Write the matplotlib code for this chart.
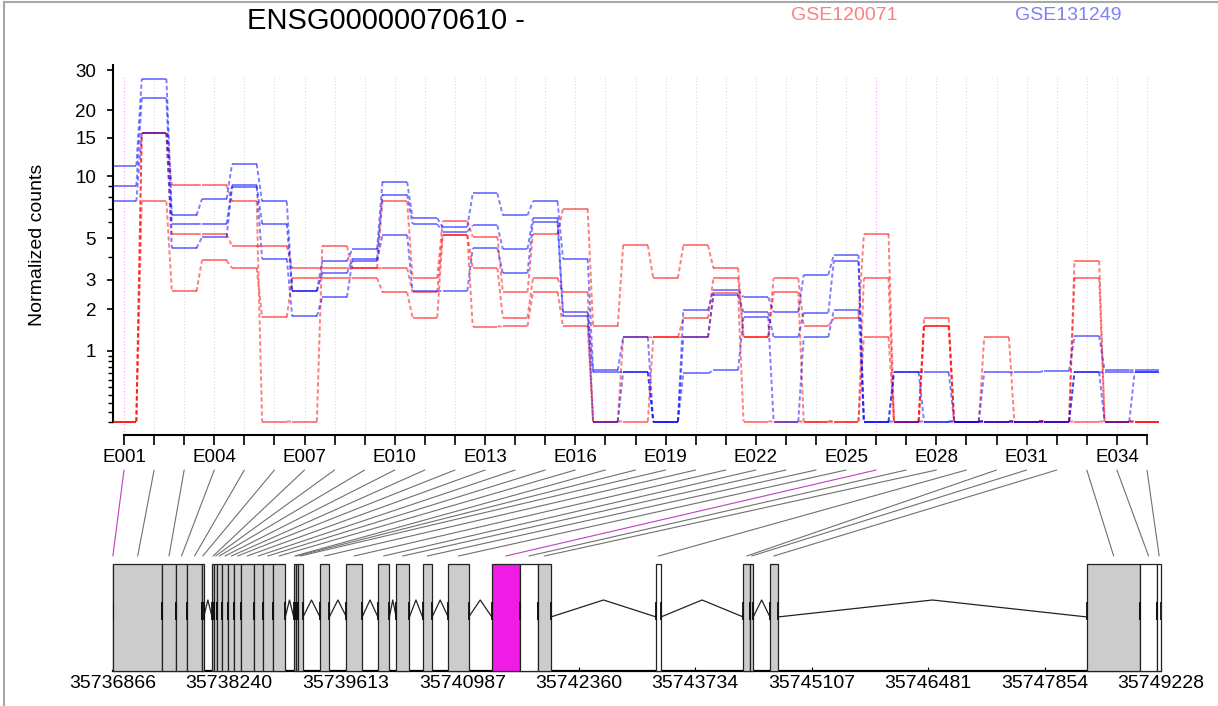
import numpy as np
import matplotlib
matplotlib.use("Agg")
import matplotlib.pyplot as plt
from matplotlib.lines import Line2D
from matplotlib.patches import Rectangle, ConnectionPatch
from matplotlib.transforms import blended_transform_factory

plt.rcParams['font.family'] = ['Liberation Sans', 'DejaVu Sans']

# ---------------------------------------------------------------- data
gene_id = "ENSG00000070610"
strand = "-"
exon_ids = [f"E{i:03d}" for i in range(1, 36)]
group_names = ["GSE120071", "GSE131249"]
highlight_bins = ["E001", "E026"]

# normalized counts per exon bin, one list per sample
gse120071_s1 = [0, 15.8, 9.1, 9.1, 7.6, 0, 0, 4.56, 3.48, 7.6, 3.07, 6.1, 5.1, 2.54, 5.25,
                7.0, 1.54, 4.6, 3.06, 4.6, 3.48, 1.28, 3.06, 1.54, 1.74, 5.25, 0, 1.74, 0,
                1.28, 0, 0, 3.8, 0, 0]
gse120071_s2 = [0, 15.8, 5.25, 5.25, 4.56, 4.56, 3.48, 3.48, 3.48, 3.48, 2.54, 5.2, 3.48, 1.76,
                3.06, 2.54, 0, 1.28, 1.28, 1.74, 3.06, 1.28, 2.54, 0, 0, 3.06, 0, 1.54, 0,
                0, 0, 0, 3.06, 0, 0]
gse120071_s3 = [0, 7.6, 2.57, 3.83, 3.48, 1.77, 3.07, 3.07, 3.07, 2.54, 1.76, 5.2, 1.53, 1.54,
                2.54, 1.54, 0, 0, 1.28, 1.28, 2.5, 0, 0, 0, 0, 1.28, 0, 1.54, 0,
                0, 0, 0, 0, 0, 0]
gse131249_s1 = [11.2, 27.5, 6.5, 7.8, 11.4, 7.6, 2.58, 3.79, 4.4, 9.4, 6.3, 5.7, 8.3, 6.5, 7.6,
                3.9, 0.65, 1.28, 0, 1.97, 2.62, 2.37, 1.91, 3.2, 4.1, 0, 0.62, 0.62, 0,
                0.62, 0.62, 0.64, 1.31, 0.65, 0.65]
gse131249_s2 = [9.0, 22.6, 5.9, 5.9, 9.08, 5.9, 2.58, 3.26, 3.9, 8.2, 5.9, 5.4, 5.8, 4.4, 6.3,
                1.91, 0.62, 0.62, 0, 1.28, 2.44, 1.91, 1.28, 1.9, 3.8, 0, 0.62, 0, 0,
                0, 0, 0, 0.62, 0.62, 0.62]
gse131249_s3 = [7.6, 15.8, 4.44, 5.06, 8.9, 3.92, 1.8, 2.37, 3.8, 5.2, 2.58, 2.58, 4.44, 3.26,
                6.0, 1.8, 0, 0.62, 0, 0.6, 0.65, 1.78, 0, 1.28, 1.97, 0, 0, 0, 0,
                0, 0, 0, 0.62, 0, 0.62]

# exon bin genomic coordinates and box style
bin_start = [35736866, 35736870, 35737451, 35737609, 35737746, 35737916, 35738037, 35738064,
             35738096, 35738151, 35738229, 35738302, 35738375, 35738529, 35738635, 35738753,
             35739000, 35739024, 35739047, 35739310, 35739622, 35739993, 35740208, 35740519,
             35740822, 35741336, 35741664, 35741884, 35743275, 35744301, 35744381, 35744616,
             35748357, 35748978, 35749180]
bin_end = [35736870, 35737451, 35737609, 35737746, 35737916, 35737939, 35738064, 35738096,
           35738151, 35738229, 35738302, 35738375, 35738529, 35738635, 35738753, 35738901,
           35739024, 35739047, 35739110, 35739420, 35739807, 35740128, 35740364, 35740632,
           35741063, 35741664, 35741884, 35742031, 35743329, 35744381, 35744418, 35744705,
           35748978, 35749180, 35749228]
white_bins = ["E027", "E029", "E034", "E035"]
gene_ticks = [35736866, 35738240, 35739613, 35740987, 35742360,
              35743734, 35745107, 35746481, 35747854, 35749228]

y_major = [1, 2, 3, 5, 10, 15, 20, 30]
y_minor = [0, 0.1, 0.2, 0.3, 0.4, 0.5, 0.6, 0.7, 0.8, 0.9, 4, 6, 7, 8, 9]

# ---------------------------------------------------------------- layout
W, H = 1218, 706
fig = plt.figure(figsize=(W / 100, H / 100), dpi=100)
fig.patch.set_facecolor("white")


def fx(px):
    return px / W


def fy(py):
    return 1 - py / H


n = len(exon_ids)
xpos = np.arange(1, n + 1)
half = 0.41
step_px = (1147 - 124) / (n - 1)

ax = fig.add_axes([fx(112.7), fy(435), (1160 - 112.7) / W, (435 - 65) / H])
ax.set_xlim(1 - (124 - 112.7) / step_px, 1 + (1160 - 124) / step_px)


def fwd(v):
    with np.errstate(invalid="ignore", divide="ignore"):
        return np.log10(np.asarray(v, dtype=float) + 1)


def inv(t):
    return 10 ** np.asarray(t, dtype=float) - 1


ax.set_yscale("function", functions=(fwd, inv))
px_per_dec = 235.5
y_lo = 10 ** (-(435 - 421.5) / px_per_dec) - 1
y_hi = 10 ** ((421.5 - 65) / px_per_dec) - 1
ax.set_ylim(y_lo, y_hi)

for s in ["top", "right"]:
    ax.spines[s].set_visible(False)
ax.spines["left"].set_bounds(0, y_hi)
ax.spines["bottom"].set_bounds(1, n)
ax.spines["left"].set_linewidth(1.5)
ax.spines["bottom"].set_linewidth(1.5)

ax.set_xticks(xpos)
ax.set_xticklabels([e if (i % 3 == 0) else "" for i, e in enumerate(exon_ids)])
ax.tick_params(axis="x", direction="out", length=7.2, width=1.2, labelsize=13.5, pad=3,
               colors="black")
ax.set_yticks(y_major)
ax.set_yticklabels([str(v) for v in y_major])
ax.set_yticks(y_minor, minor=True)
ax.tick_params(axis="y", which="major", direction="out", length=4, width=1.2,
               labelsize=13.5, pad=8)
ax.tick_params(axis="y", which="minor", direction="out", length=3.5, width=1.0)
ax.patch.set_alpha(0)

all_samples = [gse120071_s1, gse120071_s2, gse120071_s3,
               gse131249_s1, gse131249_s2, gse131249_s3]
vmax = max(max(s) for s in all_samples)

# vertical dotted guides at each bin
for i, e in enumerate(exon_ids):
    col = "#F4A6F4" if e in highlight_bins else "#D8D8D8"
    ax.vlines(xpos[i], y_lo, vmax * 1.03, colors=col, linestyles=(0, (1, 2)),
              linewidth=0.8, zorder=1)

group_colors = ["#FF0000", "#0000FF"]
sample_groups = [0, 0, 0, 1, 1, 1]
for vals, g in zip(all_samples, sample_groups):
    vals = np.asarray(vals, dtype=float)
    c = group_colors[g]
    ax.hlines(vals, xpos - half, xpos + half, colors=c, alpha=0.5, linewidth=1.4, zorder=3)
    cx, cy = [], []
    for i in range(n - 1):
        cx += [xpos[i] + half, xpos[i + 1] - half, np.nan]
        cy += [vals[i], vals[i + 1], np.nan]
    ax.plot(cx, cy, color=c, alpha=0.5, linewidth=1.4, linestyle=(0, (2.2, 1.4)), zorder=3)

# ---------------------------------------------------------------- gene model
gene_start, gene_end = gene_ticks[0], gene_ticks[-1]
axg = fig.add_axes([fx(112.7), fy(670.7), (1161.2 - 112.7) / W, (670.7 - 470) / H])
axg.set_xlim(gene_start, gene_end)
axg.set_ylim(0, 1)
axg.patch.set_alpha(0)
for s in ["top", "right", "left"]:
    axg.spines[s].set_visible(False)
axg.spines["bottom"].set_linewidth(1.6)
axg.set_yticks([])
axg.set_xticks(gene_ticks)
axg.set_xticklabels([str(t) for t in gene_ticks])
axg.tick_params(axis="x", direction="in", length=3, width=0.8, labelsize=14, pad=3)

span = 200.7
box_top = (670.7 - 564) / span
intron_base = (670.7 - 617) / span
intron_peak = (670.7 - 600) / span
link_bottom = (670.7 - 556) / span

for e, s0, s1 in zip(exon_ids, bin_start, bin_end):
    if e in highlight_bins:
        fc = "#F01CE6"
    elif e in white_bins:
        fc = "white"
    else:
        fc = "#CCCCCC"
    axg.add_patch(Rectangle((s0, 0), s1 - s0, box_top, facecolor=fc, edgecolor="#222222",
                            linewidth=0.9, zorder=3, clip_on=False))
    axg.vlines([s0, s1], intron_base - 0.015, intron_peak - 0.01, colors="#111111",
               linewidth=1.3, zorder=4)

for i in range(n - 1):
    a, b = bin_end[i], bin_start[i + 1]
    if b > a:
        axg.plot([a, (a + b) / 2, b], [intron_base, intron_peak, intron_base],
                 color="#222222", linewidth=0.9, zorder=2)

# links from exon bins in the count plot to their genomic position
link_tr = blended_transform_factory(ax.transData, axg.transData)
for i, e in enumerate(exon_ids):
    center = (bin_start[i] + bin_end[i]) / 2
    col = "#C040C0" if e in highlight_bins else "#707070"
    cp = ConnectionPatch(xyA=(xpos[i], 1.0), coordsA=link_tr,
                         xyB=(center, link_bottom), coordsB=axg.transData,
                         color=col, linewidth=0.8)
    fig.add_artist(cp)

# ---------------------------------------------------------------- text
fig.text(fx(386), fy(21), f"{gene_id} {strand}", ha="center", va="center", fontsize=21)
fig.text(fx(844), fy(15), group_names[0], ha="center", va="center", fontsize=14,
         color="#FF8080")
fig.text(fx(1068), fy(15), group_names[1], ha="center", va="center", fontsize=14,
         color="#8080FF")
fig.text(fx(38), fy(245), "Normalized counts", rotation=90, ha="center", va="center",
         fontsize=14)

# frame
fig.add_artist(Line2D([fx(4), fx(4)], [0, fy(2)], color="#A8A8A8", linewidth=1.5))
fig.add_artist(Line2D([fx(4), 1], [fy(2), fy(2)], color="#A8A8A8", linewidth=1.5))

fig.savefig("out.png", dpi=100)
